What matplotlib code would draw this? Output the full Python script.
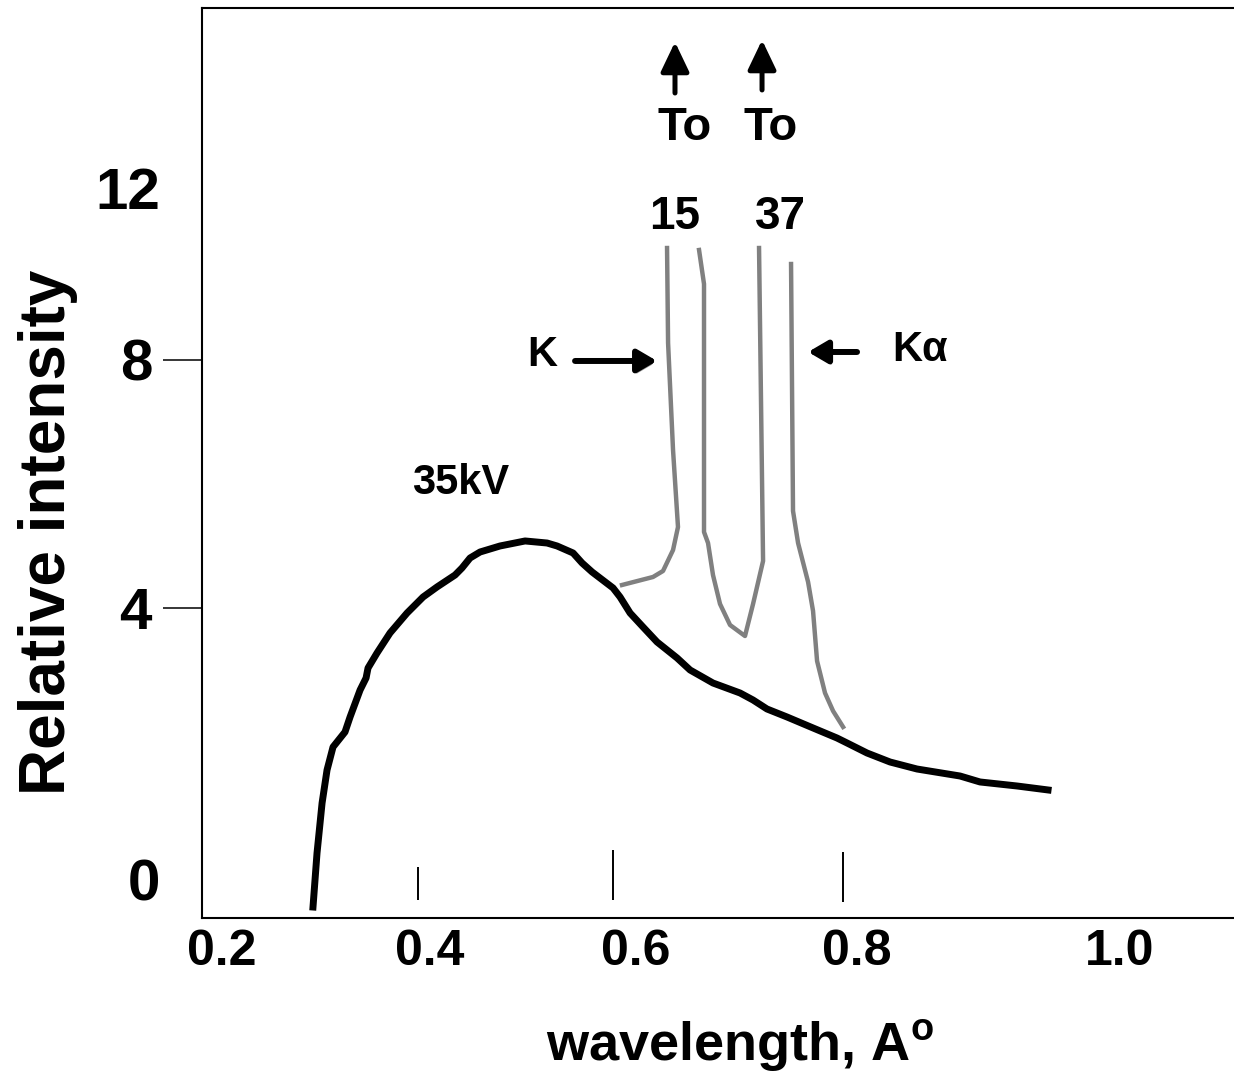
import matplotlib
matplotlib.use('Agg')
import matplotlib.pyplot as plt
import matplotlib.patheffects as pe

plt.rcParams['font.family'] = ['Liberation Sans', 'DejaVu Sans']
plt.rcParams['font.weight'] = 'bold'
plt.rcParams['mathtext.fontset'] = 'custom'
plt.rcParams['mathtext.rm'] = 'Liberation Sans:bold'
plt.rcParams['mathtext.bf'] = 'Liberation Sans:bold'

# continuous spectrum at 35 kV (wavelength in A, relative intensity)
cont_wl = [0.2881, 0.2920, 0.2969, 0.3017, 0.3075, 0.3191, 0.3240, 0.3337,
           0.3395, 0.3414, 0.3501, 0.3627, 0.3792, 0.3947, 0.4082, 0.4257,
           0.4324, 0.4402, 0.4499, 0.4692, 0.4935, 0.5148, 0.5245, 0.5400,
           0.5487, 0.5584, 0.5787, 0.5855, 0.5952, 0.6077, 0.6213, 0.6407,
           0.6533, 0.6755, 0.7017, 0.7143, 0.7278, 0.7472, 0.7724, 0.7956,
           0.8053, 0.8247, 0.8470, 0.8731, 0.9148, 0.9341, 0.9700, 1.0000]
cont_int = [-0.823, 0.048, 0.855, 1.387, 1.758, 2.000, 2.242, 2.677,
            2.871, 3.032, 3.274, 3.597, 3.919, 4.177, 4.339, 4.532,
            4.645, 4.806, 4.903, 5.000, 5.081, 5.048, 5.000, 4.887,
            4.726, 4.581, 4.323, 4.177, 3.919, 3.694, 3.452, 3.194,
            3.000, 2.790, 2.629, 2.516, 2.371, 2.242, 2.065, 1.903,
            1.823, 1.661, 1.516, 1.403, 1.290, 1.194, 1.129, 1.065]

# characteristic lines (tops cut off)
k_left_wl = [0.5874, 0.6174, 0.6271, 0.6368, 0.6416, 0.6368, 0.6320, 0.6310]
k_left_int = [4.371, 4.500, 4.597, 4.935, 5.306, 6.548, 8.274, 9.806]

valley_wl = [0.6620, 0.6668, 0.6668, 0.6707, 0.6755, 0.6823, 0.6920, 0.7065,
             0.7143, 0.7240, 0.7201]
valley_int = [9.774, 9.226, 5.226, 5.048, 4.532, 4.065, 3.726, 3.548,
              4.065, 4.758, 9.806]

ka_right_wl = [0.7511, 0.7530, 0.7579, 0.7676, 0.7724, 0.7763, 0.7840, 0.7918, 0.8015]
ka_right_int = [9.548, 5.565, 5.048, 4.419, 3.952, 3.145, 2.629, 2.339, 2.081]

# small marks drawn above the wavelength axis
mark_wl = [0.3898, 0.5787, 0.8015]
mark_lo = [-0.710, -0.710, -0.742]
mark_hi = [-0.177, 0.097, 0.065]

xtick_pos = [0.2, 0.4015, 0.601, 0.815, 1.0697]
xtick_lab = ['0.2', '0.4', '0.6', '0.8', '1.0']
ytick_pos = [4, 8]
ytick_lab = ['4', '8']
yextra_pos = [-0.387, 10.774]
yextra_lab = ['0', '12']

fig = plt.figure(figsize=(12.34, 10.76), dpi=100)
ax = fig.add_axes([202 / 1234, 1 - 918 / 1076, 1032 / 1234, 910 / 1076])

ax.plot(cont_wl, cont_int, color='black', lw=5, solid_joinstyle='round')
for wl, it in [(k_left_wl, k_left_int), (valley_wl, valley_int), (ka_right_wl, ka_right_int)]:
    ax.plot(wl, it, color='#808080', lw=3.2, solid_joinstyle='round')
ax.vlines(mark_wl, mark_lo, mark_hi, color='black', lw=1.4)

ax.set_xlim(0.1806, 1.1801)
ax.set_ylim(-1.0, 13.677)

ax.set_xticks(xtick_pos, xtick_lab)
ax.tick_params(axis='x', length=0, pad=8, labelsize=36)
ax.set_yticks(ytick_pos, ytick_lab)
ax.set_yticks(yextra_pos, yextra_lab, minor=True)
ax.tick_params(axis='y', which='major', length=28, width=1.1, pad=8, labelsize=42)
ax.tick_params(axis='y', which='minor', length=0, pad=30, labelsize=42)

for s in ['left', 'bottom', 'top']:
    ax.spines[s].set_linewidth(1.5)
ax.spines['right'].set_visible(False)

ax.set_xlabel(r'wavelength, A$^{\mathbf{o}}$', fontsize=39, fontweight='bold', va='center')
ax.xaxis.set_label_coords(0.5213, -0.1396)
ax.set_ylabel('Relative intensity', fontsize=46, fontweight='bold', va='center')
ax.yaxis.set_label_coords(-0.1492, 0.4242)

# labels in the plot
ax.text(0.6484, 11.742, 'To', fontsize=34, ha='center', va='center')
ax.text(0.7317, 11.742, 'To', fontsize=34, ha='center', va='center')
ax.text(0.6387, 10.306, '15', fontsize=33, ha='center', va='center')
ax.text(0.7404, 10.306, '37', fontsize=33, ha='center', va='center')
ax.text(0.5099, 8.081, 'K', fontsize=30, ha='center', va='center')
ax.text(0.8760, 8.161, 'Kα', fontsize=30, ha='center', va='center')
ax.text(0.4315, 6.016, '35kV', fontsize=30, ha='center', va='center')

up = dict(arrowstyle='-|>,head_length=0.9,head_width=0.43', color='black', lw=3.6,
          mutation_scale=20, shrinkA=0, shrinkB=0)
ax.annotate('', xy=(0.6387, 13.129), xytext=(0.6387, 12.306), arrowprops=up)
ax.annotate('', xy=(0.7230, 13.161), xytext=(0.7230, 12.355), arrowprops=up)

# K / K-alpha pointers, with the grey shadow under them
side = dict(arrowstyle='-|>,head_length=0.58,head_width=0.34', color='black', lw=4.3,
            mutation_scale=20, shrinkA=0, shrinkB=0)
shadow = [pe.SimplePatchShadow(offset=(1, -2.5), shadow_rgbFace='#9a9a9a', alpha=1),
          pe.Normal()]
a1 = ax.annotate('', xy=(0.6213, 7.984), xytext=(0.5419, 7.984), arrowprops=side)
a2 = ax.annotate('', xy=(0.7676, 8.129), xytext=(0.8150, 8.129), arrowprops=side)
a1.arrow_patch.set_path_effects(shadow)
a2.arrow_patch.set_path_effects(shadow)

fig.savefig('out.png', dpi=100)
